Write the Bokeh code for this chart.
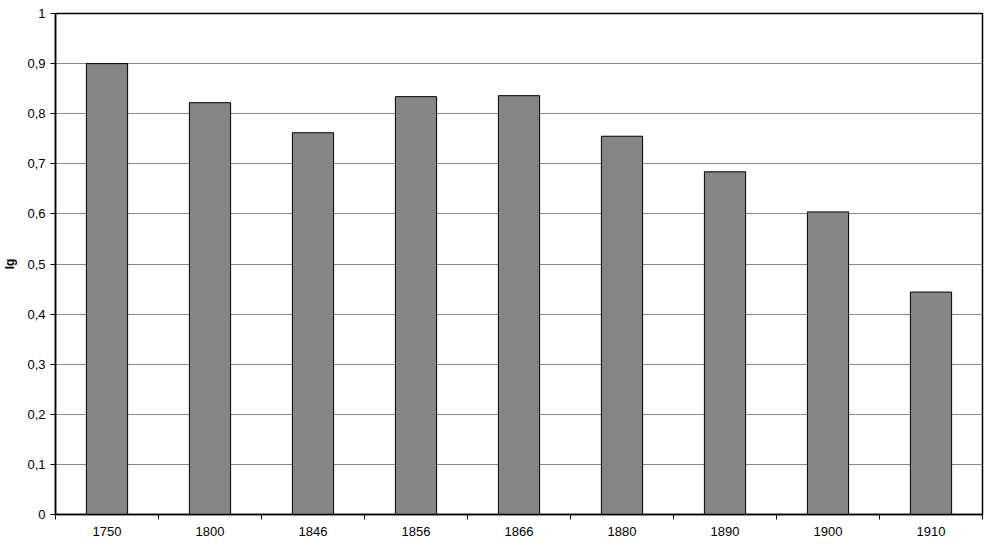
from bokeh.plotting import figure
from bokeh.models import FixedTicker, CustomJSTickFormatter, Range1d, ColumnDataSource
from bokeh.embed import file_html
from bokeh.resources import INLINE

years = ["1750", "1800", "1846", "1856", "1866", "1880", "1890", "1900", "1910"]
values = [0.900, 0.822, 0.762, 0.834, 0.836, 0.755, 0.684, 0.604, 0.444]
y_ticks = [0, 0.1, 0.2, 0.3, 0.4, 0.5, 0.6, 0.7, 0.8, 0.9, 1]

n = len(years)
xs = [i + 0.5 for i in range(n)]
src = ColumnDataSource(dict(x=xs, top=values, year=years))

p = figure(width=984, height=539, output_backend="svg", toolbar_location=None,
           x_range=Range1d(0, n), y_range=Range1d(0, 1),
           min_border_left=45, min_border_right=2, min_border_top=13, min_border_bottom=25)

p.vbar(x="x", top="top", width=0.4, bottom=0, source=src,
       fill_color="#858585", line_color="black", line_width=1)

p.outline_line_color = "black"
p.outline_line_width = 1.5
p.background_fill_color = "white"
p.border_fill_color = "white"

# x axis
p.xaxis.ticker = FixedTicker(ticks=xs, minor_ticks=list(range(n + 1)))
p.xaxis.major_label_overrides = {x: y for x, y in zip(xs, years)}
p.xaxis.major_tick_out = 0
p.xaxis.major_tick_in = 0
p.xaxis.minor_tick_out = 5
p.xaxis.minor_tick_in = 0
p.xaxis.minor_tick_line_color = "black"
p.xaxis.axis_line_color = "black"
p.xaxis.axis_line_width = 1.5
p.xaxis.major_label_text_font = "Liberation Sans"
p.xaxis.major_label_text_font_size = "13px"
p.xaxis.major_label_text_color = "black"
p.xaxis.major_label_standoff = 7

# y axis
p.yaxis.ticker = FixedTicker(ticks=y_ticks)
p.yaxis.formatter = CustomJSTickFormatter(code="""
if (Math.abs(tick) < 1e-9) return "0";
if (Math.abs(tick - 1) < 1e-9) return "1";
return tick.toFixed(1).replace('.', ',');
""")
p.yaxis.minor_tick_line_color = None
p.yaxis.major_tick_out = 5
p.yaxis.major_tick_in = 0
p.yaxis.major_tick_line_color = "black"
p.yaxis.axis_line_color = "black"
p.yaxis.axis_line_width = 1.5
p.yaxis.major_label_text_font = "Liberation Sans"
p.yaxis.major_label_text_font_size = "13px"
p.yaxis.major_label_text_color = "black"
p.yaxis.major_label_standoff = 5
p.yaxis.axis_label = "Ig"
p.yaxis.axis_label_text_font = "Liberation Sans"
p.yaxis.axis_label_text_font_size = "12px"
p.yaxis.axis_label_text_font_style = "bold"
p.yaxis.axis_label_text_color = "black"
p.yaxis.axis_label_standoff = 7

p.xgrid.grid_line_color = None
p.ygrid.grid_line_color = "#8a8a8a"
p.ygrid.grid_line_width = 1

open("out.html", "w").write(file_html(p, INLINE))
